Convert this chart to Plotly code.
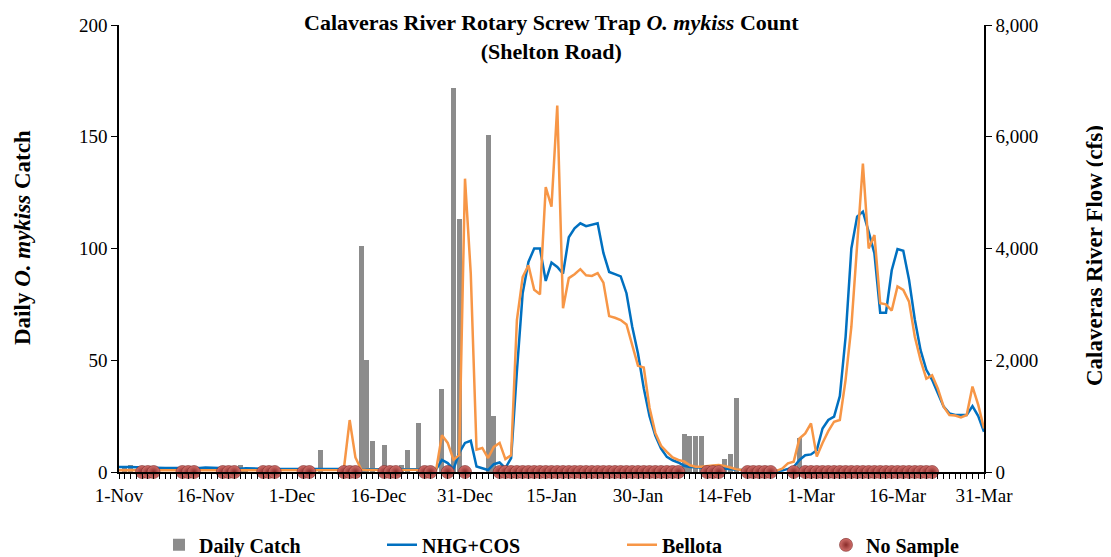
import pandas as pd
import plotly.graph_objects as go

# ---------------- data ----------------
dates = pd.date_range("2016-11-01", "2017-03-31", freq="D")

catch_dates = ["2016-11-02", "2016-11-03", "2016-11-22", "2016-11-23", "2016-12-06",
               "2016-12-13", "2016-12-14", "2016-12-15", "2016-12-17", "2016-12-20",
               "2016-12-21", "2016-12-23", "2016-12-27", "2016-12-29", "2016-12-30",
               "2017-01-04", "2017-01-05", "2017-02-07", "2017-02-08", "2017-02-09",
               "2017-02-10", "2017-02-14", "2017-02-15", "2017-02-16", "2017-02-27"]
catch_counts = [2, 3, 3, 2, 10,
                101, 50, 14, 12, 3,
                10, 22, 37, 172, 113,
                151, 25, 17, 16, 16,
                16, 6, 8, 33, 15]

nhg_cos_cfs = [
    90, 95, 90, 85, 80, 75, 75, 70, 70, 70,
    75, 70, 70, 65, 70, 80, 75, 70, 65, 65,
    60, 60, 65, 60, 60, 60, 55, 55, 55, 55,
    55, 50, 50, 50, 50, 55, 55, 55, 55, 60,
    65, 55, 50, 50, 50, 45, 45, 45, 45, 45,
    45, 45, 45, 45, 45, 50, 215, 160, 50, 340,
    520, 560, 100, 70, 35, 140, 170, 70, 250, 1800,
    3200, 3760, 4000, 4000, 3420, 3750, 3670, 3550, 4200, 4360,
    4450, 4400, 4430, 4450, 3920, 3580, 3540, 3500, 3200, 2600,
    2120, 1500, 1000, 650, 420, 270, 210, 170, 110, 90,
    85, 80, 75, 70, 70, 65, 55, 40, 35, 30,
    25, 25, 25, 20, 20, 25, 55, 90, 215, 300,
    315, 390, 780, 930, 990, 1360, 2420, 4000, 4570, 4660,
    4300, 3910, 2850, 2850, 3610, 3990, 3960, 3440, 2730, 2180,
    1830, 1650, 1410, 1170, 1050, 1020, 1020, 1020, 1180, 1000,
    720]

bellota_cfs = [
    30, 30, 30, 30, 30, 28, 28, 28, 28, 28,
    28, 28, 28, 28, 28, 28, 28, 28, 25, 25,
    25, 25, 25, 25, 25, 25, 25, 25, 25, 25,
    25, 25, 25, 25, 25, 30, 30, 30, 35, 60,
    930, 260, 45, 35, 35, 35, 35, 35, 35, 35,
    35, 35, 35, 35, 35, 40, 660, 520, 220, 300,
    5250, 3550, 400, 430, 250, 450, 520, 230, 300, 2720,
    3490, 3700, 3260, 3180, 5100, 4750, 6560, 2930, 3470, 3540,
    3630, 3520, 3510, 3560, 3390, 2790, 2760, 2720, 2640, 2270,
    1900, 1870, 1150, 700, 470, 360, 260, 215, 190, 120,
    95, 95, 100, 115, 125, 110, 80, 50, 35, 30,
    25, 25, 25, 25, 20, 60, 155, 185, 600, 690,
    870, 275, 520, 730, 900, 930, 1650, 2600, 4030, 5520,
    4000, 4240, 3020, 3000, 2890, 3320, 3260, 3050, 2420, 2000,
    1670, 1730, 1490, 1170, 1020, 1010, 975, 1020, 1530, 1200,
    780]

no_sample_start = ["2016-11-05", "2016-11-12", "2016-11-19", "2016-11-26", "2016-12-03",
                   "2016-12-10", "2016-12-17", "2016-12-24", "2016-12-28", "2016-12-31",
                   "2017-01-06", "2017-02-11", "2017-02-18", "2017-02-26", "2017-02-28"]
no_sample_end = ["2016-11-07", "2016-11-14", "2016-11-21", "2016-11-28", "2016-12-04",
                 "2016-12-12", "2016-12-19", "2016-12-25", "2016-12-28", "2016-12-31",
                 "2017-02-06", "2017-02-13", "2017-02-22", "2017-02-26", "2017-03-22"]

tick_dates = ["2016-11-01", "2016-11-16", "2016-12-01", "2016-12-16", "2016-12-31",
              "2017-01-15", "2017-01-30", "2017-02-14", "2017-03-01", "2017-03-16",
              "2017-03-31"]
tick_labels = ["1-Nov", "16-Nov", "1-Dec", "16-Dec", "31-Dec", "15-Jan", "30-Jan",
               "14-Feb", "1-Mar", "16-Mar", "31-Mar"]
catch_ticks = [0, 50, 100, 150, 200]
flow_ticks = [0, 2000, 4000, 6000, 8000]

# ---------------- build ----------------
no_sample_dates = []
for s, e in zip(no_sample_start, no_sample_end):
    no_sample_dates.extend(pd.date_range(s, e, freq="D"))

FONT = "Liberation Serif, Times New Roman, serif"
DAY_MS = 86400000

# the page body has an 8px margin: the figure is sized so the plot lands
# at page x 119..984, y 25..472
PAGE_OFF = 8
FIG_W, FIG_H = 1111 - PAGE_OFF, 557 - PAGE_OFF
PL, PR, PT, PB = 119, 984, 25, 472
ML, MT = PL - PAGE_OFF, PT - PAGE_OFF
MR, MB = FIG_W - (PR - PAGE_OFF), FIG_H - (PB - PAGE_OFF)
PW, PH = PR - PL, PB - PT

fig = go.Figure()
fig.add_trace(go.Bar(
    x=pd.to_datetime(catch_dates), y=catch_counts, name="Daily Catch",
    marker=dict(color="#8C8C8C", line=dict(width=0)), width=DAY_MS * 0.87,
    yaxis="y", legend="legend"))
fig.add_trace(go.Scatter(
    x=dates, y=nhg_cos_cfs, name="NHG+COS", mode="lines",
    line=dict(color="#0070C0", width=2.5), yaxis="y2", legend="legend2"))
fig.add_trace(go.Scatter(
    x=dates, y=bellota_cfs, name="Bellota", mode="lines",
    line=dict(color="#F79646", width=2.5), yaxis="y2", legend="legend3"))
fig.add_trace(go.Scatter(
    x=no_sample_dates, y=[0] * len(no_sample_dates), name="No Sample", mode="markers",
    marker=dict(size=13, color="#D2706C",
                gradient=dict(type="radial", color="#8A2C2A"),
                line=dict(color="#7A2826", width=0.6)),
    cliponaxis=False, yaxis="y2", legend="legend4"))

axis_common = dict(showline=True, linecolor="black", linewidth=1.5, showgrid=False,
                   zeroline=False, ticks="outside", tickcolor="black",
                   tickfont=dict(family=FONT, size=19, color="black"))

legend_font = dict(family=FONT, size=20, color="black", weight="bold")


def legend_at(px_left):
    return dict(orientation="h", x=(px_left - PL) / PW, y=-0.163,
                xanchor="left", yanchor="middle", font=legend_font,
                bgcolor="rgba(0,0,0,0)")


def px_x(px):
    return (px - PL) / PW


def px_y(py):
    return (PB - py) / PH


fig.update_layout(
    width=FIG_W, height=FIG_H,
    margin=dict(l=ML, r=MR, t=MT, b=MB, autoexpand=False),
    paper_bgcolor="white", plot_bgcolor="white",
    bargap=0,
    showlegend=True,
    legend=legend_at(159),
    legend2=legend_at(382),
    legend3=legend_at(622),
    legend4=legend_at(826),
    xaxis=dict(type="date", range=[dates[0], dates[-1]],
               tickmode="array", tickvals=pd.to_datetime(tick_dates), ticktext=tick_labels,
               ticklen=5,
               minor=dict(tickmode="linear", tick0="2016-11-01", dtick=DAY_MS,
                          ticks="outside", ticklen=5, tickcolor="black"),
               **axis_common),
    yaxis=dict(range=[0, 200], tickmode="array", tickvals=catch_ticks, ticklen=6,
               **axis_common),
    yaxis2=dict(range=[0, 8000], overlaying="y", side="right", tickmode="array",
                tickvals=flow_ticks, tickformat=",", ticklen=6, **axis_common),
    annotations=[
        dict(text="<b>Calaveras River Rotary Screw Trap <i>O. mykiss</i> Count</b><br><b>(Shelton Road)</b>",
             xref="paper", yref="paper", x=0.5, y=px_y(8), xanchor="center", yanchor="top",
             showarrow=False, font=dict(family=FONT, size=22, color="black")),
        dict(text="<b>Daily <i>O. mykiss</i> Catch</b>", textangle=-90,
             xref="paper", yref="paper", x=px_x(22), y=px_y(238), xanchor="center",
             yanchor="middle", showarrow=False, font=dict(family=FONT, size=23, color="black")),
        dict(text="<b>Calaveras River Flow (cfs)</b>", textangle=-90,
             xref="paper", yref="paper", x=px_x(1094), y=px_y(256), xanchor="center",
             yanchor="middle", showarrow=False, font=dict(family=FONT, size=23, color="black")),
    ],
)

fig.write_html("out.html")
